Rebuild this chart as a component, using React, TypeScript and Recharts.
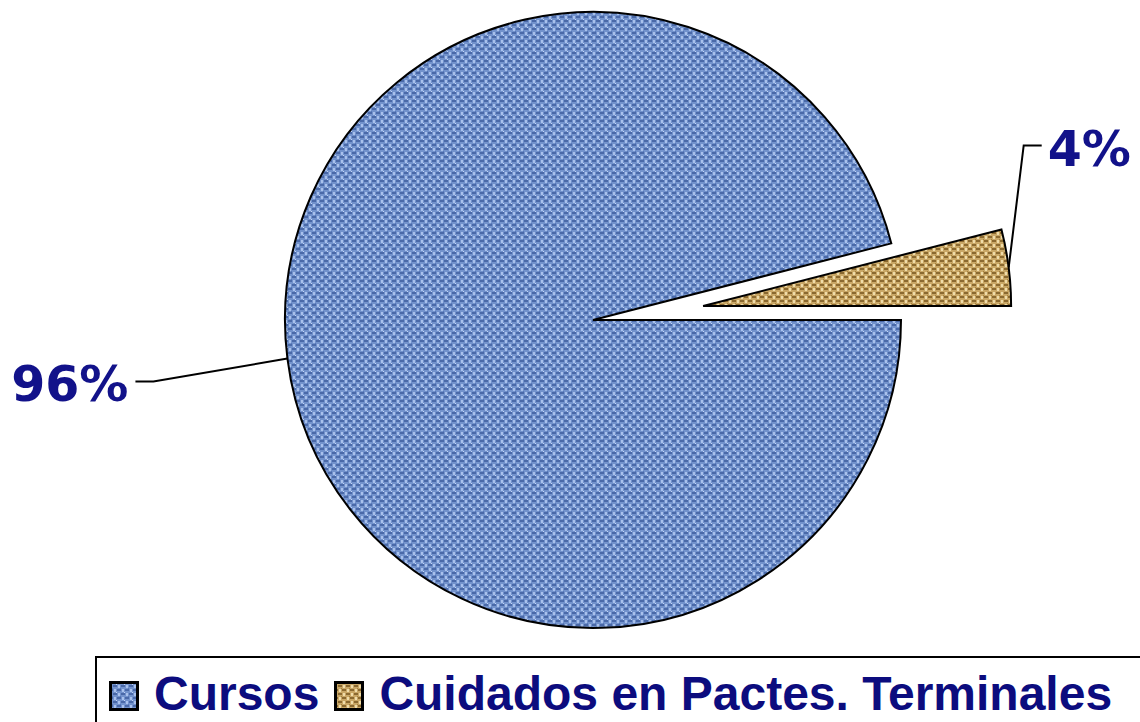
import { PieChart, Pie, Cell, Legend } from 'recharts';

const categories = ['Cursos', 'Cuidados en Pactes. Terminales'];
const values = [96, 4];
const fills = ['url(#blueWeave)', 'url(#tanWeave)'];

const data = categories.map((name, i) => ({ name, value: values[i] }));
const total = values.reduce((a, b) => a + b, 0);

const CX = 593;
const CY = 320;
const R = 308;
const EXPLODE = 111;
const RAD = Math.PI / 180;

// pie starts so that the small slice sits just above 3 o'clock
const startAngle = (360 * values[1]) / total;
const endAngle = startAngle + 360;
const smallMid = startAngle / 2;
const CX2 = CX + EXPLODE * Math.cos(smallMid * RAD);
const CY2 = CY - EXPLODE * Math.sin(smallMid * RAD);

const labelColor = '#12128a';
const labelFont = { fontFamily: 'DejaVu Sans', fontWeight: 700, fontSize: 49 };

function BigLabel(props: any) {
  const { cx, cy, midAngle, outerRadius, percent, name } = props;
  if (name !== categories[0]) return null;
  const x0 = cx + outerRadius * Math.cos(midAngle * RAD);
  const y0 = cy - outerRadius * Math.sin(midAngle * RAD);
  const x1 = x0 - 134;
  const y1 = y0 + 23;
  const x2 = x1 - 18;
  return (
    <g>
      <polyline points={`${x0},${y0} ${x1},${y1} ${x2},${y1}`} fill="none" stroke="#000" strokeWidth={2} />
      <text x={x2 - 7} y={y1 + 3} textAnchor="end" dominantBaseline="central" fill={labelColor} style={labelFont}>
        {`${Math.round(percent * 100)}%`}
      </text>
    </g>
  );
}

function SmallLabel(props: any) {
  const { cx, cy, midAngle, outerRadius, percent, name } = props;
  if (name !== categories[1]) return null;
  const x0 = cx + outerRadius * Math.cos(midAngle * RAD);
  const y0 = cy - outerRadius * Math.sin(midAngle * RAD);
  const x1 = x0 + 15;
  const y1 = y0 - 122;
  const x2 = x1 + 18;
  return (
    <g>
      <polyline points={`${x0},${y0} ${x1},${y1} ${x2},${y1}`} fill="none" stroke="#000" strokeWidth={2} />
      <text x={x2 + 6} y={y1 + 4} textAnchor="start" dominantBaseline="central" fill={labelColor} style={labelFont}>
        {`${Math.round(percent * 100)}%`}
      </text>
    </g>
  );
}

function LegendBox() {
  return (
    <div style={{
      border: '2px solid #000', borderRight: 'none', height: 80, boxSizing: 'border-box', background: '#fff',
      display: 'flex', alignItems: 'center', paddingLeft: 12, paddingBottom: 4, whiteSpace: 'nowrap',
    }}>
      {categories.map((c, i) => (
        <span key={c} style={{ display: 'inline-flex', alignItems: 'center', marginRight: 15 }}>
          <svg width={30} height={30} style={{ marginRight: 15, marginTop: 4 }}>
            <rect x={1.5} y={1.5} width={27} height={27} fill={fills[i]} stroke="#000" strokeWidth={3} />
          </svg>
          <span style={{
            fontFamily: '"Liberation Sans", Arial, sans-serif',
            fontWeight: 700, fontSize: 48, color: '#0c0c7e', lineHeight: 1,
          }}>{c}</span>
        </span>
      ))}
    </div>
  );
}

export default function App() {
  return (
    <div style={{ position: 'absolute', left: 0, top: 0, width: 1140, height: 722, background: '#fff', overflow: 'hidden' }}>
      <PieChart width={1140} height={722} margin={{ top: 0, right: 0, bottom: 0, left: 0 }}>
        <defs>
          <pattern id="blueWeave" width="8" height="8" patternUnits="userSpaceOnUse">
            <rect width="8" height="8" fill="#7292cc" />
            <rect x="0" y="0" width="4" height="2" fill="#4a69a8" />
            <rect x="4" y="4" width="4" height="2" fill="#4a69a8" />
            <rect x="5" y="0" width="2" height="3" fill="#a9c1ec" />
            <rect x="1" y="4" width="2" height="3" fill="#a9c1ec" />
            <rect x="3" y="7" width="1" height="1" fill="#5878b8" />
            <rect x="7" y="3" width="1" height="1" fill="#c3d4f4" />
          </pattern>
          <pattern id="tanWeave" width="8" height="8" patternUnits="userSpaceOnUse">
            <rect width="8" height="8" fill="#c9a766" />
            <rect x="0" y="0" width="4" height="2" fill="#8a6930" />
            <rect x="4" y="4" width="4" height="2" fill="#8a6930" />
            <rect x="5" y="0" width="2" height="3" fill="#efdcaa" />
            <rect x="1" y="4" width="2" height="3" fill="#efdcaa" />
            <rect x="7" y="7" width="1" height="1" fill="#a3823f" />
          </pattern>
        </defs>
        <Pie data={data} dataKey="value" nameKey="name" cx={CX} cy={CY} outerRadius={R}
          startAngle={startAngle} endAngle={endAngle} isAnimationActive={false}
          label={BigLabel} labelLine={false}>
          {data.map((d, i) => (
            <Cell key={d.name} fill={i === 0 ? fills[0] : 'none'} stroke={i === 0 ? '#000' : 'none'} strokeWidth={2} />
          ))}
        </Pie>
        <Pie data={data} dataKey="value" nameKey="name" cx={CX2} cy={CY2} outerRadius={R}
          startAngle={startAngle} endAngle={endAngle} isAnimationActive={false}
          label={SmallLabel} labelLine={false} legendType="none">
          {data.map((d, i) => (
            <Cell key={d.name} fill={i === 1 ? fills[1] : 'none'} stroke={i === 1 ? '#000' : 'none'} strokeWidth={2} />
          ))}
        </Pie>
        <Legend content={LegendBox} wrapperStyle={{ position: 'absolute', left: 95, top: 656, width: 1050 }} />
      </PieChart>
    </div>
  );
}
